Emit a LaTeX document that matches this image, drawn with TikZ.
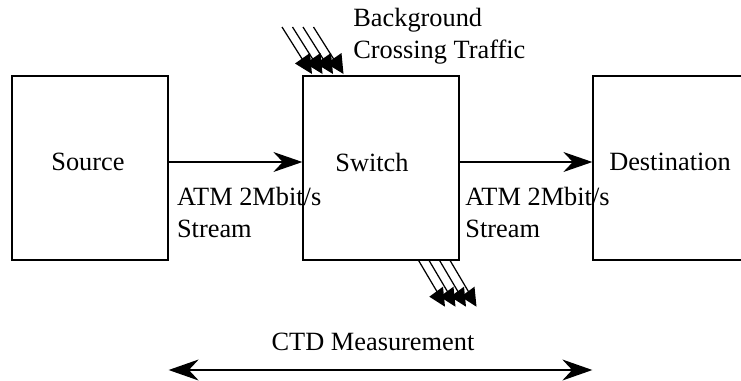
\documentclass[tikz,border=0pt]{standalone}
\usepackage{fontspec}
\setmainfont{Liberation Serif}
\usetikzlibrary{arrows.meta}

\begin{document}
\begin{tikzpicture}[x=0.02cm, y=-0.02cm, font=\fontsize{15}{18}\selectfont,
  box/.style={draw, line width=0.75pt, minimum width=3.12cm, minimum height=3.68cm, inner sep=0pt},
  lbl/.style={inner sep=0pt},
  flow/.style={line width=0.7pt, -{Stealth[length=0.58cm, width=0.4cm]}},
  burst/.style={line width=0.7pt}]
\useasboundingbox (0,0) rectangle (741,380);
\clip (0,0) rectangle (741,380);
% the three boxes (destination runs off the right edge)
\node[box] (source) at (90,168) {};
\node[box] (switch) at (381,168) {};
\node[box] (dest) at (671,168) {};
\node[lbl] (srctext) at (88,162) {Source};
\node[lbl] (swtext) at (372,162) {Switch};
\node[lbl] (desttext) at (670,162) {Destination};
% stream arrows
\draw[flow] (source.east |- srctext) -- (switch.west |- srctext);
\draw[flow] (switch.east |- srctext) -- (dest.west |- srctext);
\node[lbl, anchor=west, align=left] (inlbl) at (176.7,212.5) {ATM 2Mbit/s\\Stream};
\node[lbl, anchor=west, align=left] (outlbl) at (465,212.5) {ATM 2Mbit/s\\Stream};
% crossing traffic in and out
\node[lbl, anchor=west, align=left] (bgtext) at (353,36) {Background\\Crossing Traffic};
\foreach \i in {0,...,3} {
  \draw[burst] ({282+10.5*\i},27) -- ({305+10.5*\i},63.5);
  \fill ({295+10.5*\i},63.5) -- ({310+10.5*\i},53) -- ({312+10.5*\i},74) -- cycle;
  \draw[burst] ({418.3+10.5*\i},260) -- ({440+10.5*\i},296.7);
  \fill ({429.3+10.5*\i},296.7) -- ({443+10.5*\i},286.7) -- ({445+10.5*\i},306.7) -- cycle;
}
% measurement span
\node[lbl] (ctdtext) at (373,342) {CTD Measurement};
\coordinate (ctdl) at (source.east |- 0,370);
\coordinate (ctdr) at (dest.west |- 0,370);
\draw[line width=0.7pt, {Stealth[length=0.6cm, width=0.42cm]}-{Stealth[length=0.6cm, width=0.42cm]}] (ctdl) -- (ctdr);
\end{tikzpicture}
\end{document}
